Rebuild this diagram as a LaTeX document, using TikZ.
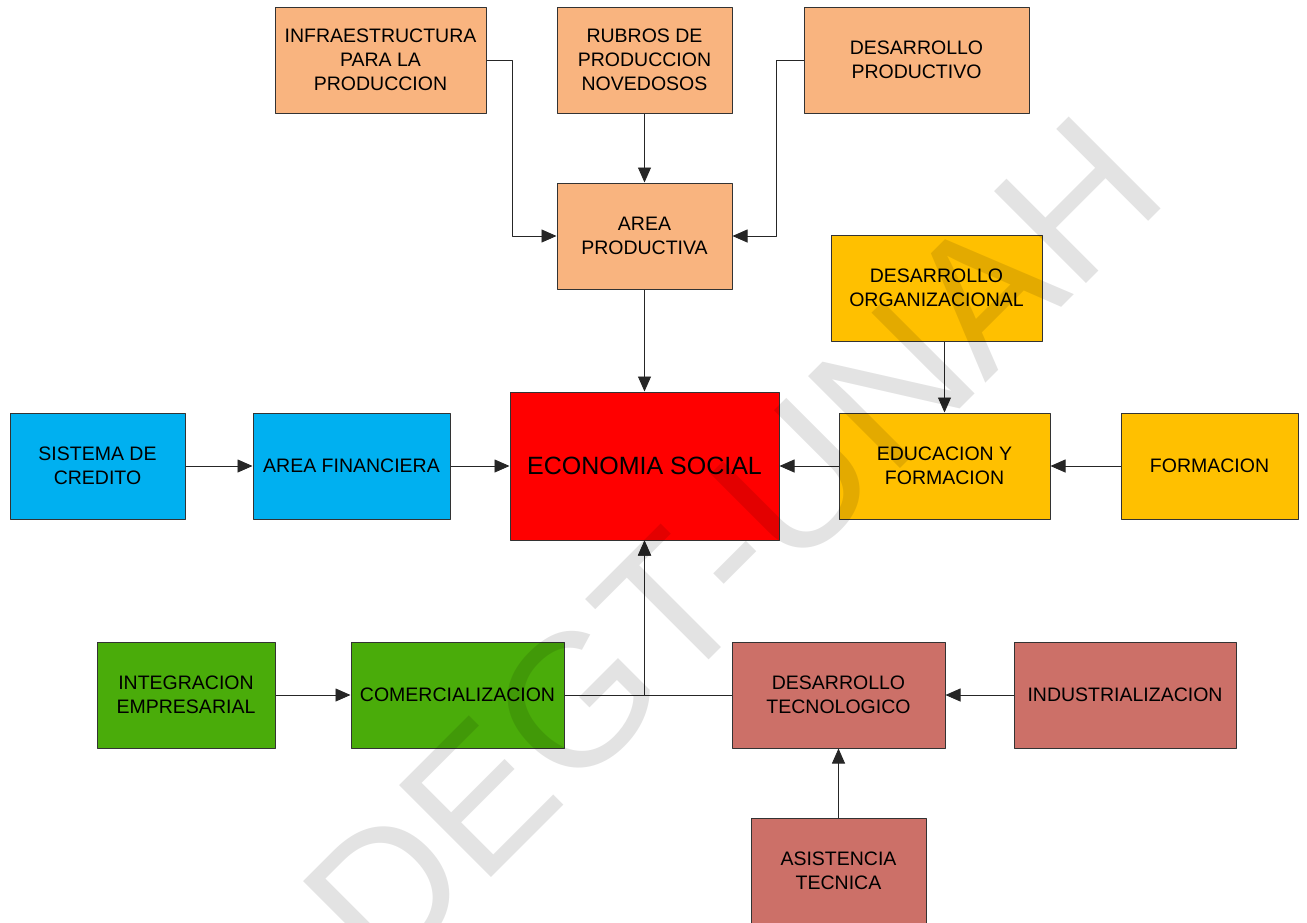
\documentclass[tikz,border=0pt]{standalone}
\usepackage{fontspec}
\setmainfont{Liberation Sans}
\usetikzlibrary{arrows.meta}
\definecolor{naranja}{HTML}{F9B47F}
\definecolor{amarillo}{HTML}{FFC000}
\definecolor{celeste}{HTML}{00B0F0}
\definecolor{rojo}{HTML}{FF0000}
\definecolor{verde}{HTML}{4AAC0A}
\definecolor{rosa}{HTML}{CC7068}
\begin{document}
\begin{tikzpicture}[>={Triangle[length=15pt,width=13pt]},x=1pt,y=-1pt,line join=round,
	caja/.style={draw=black!80,line width=1pt,inner sep=0pt,minimum height=106pt,align=center,
		font=\fontsize{19.5}{24}\selectfont},
	flecha/.style={->,line width=0.9pt,draw=black!85}]
		\useasboundingbox (0,0) rectangle (1307,922);
		% area productiva
		\node[caja,fill=naranja,minimum width=211pt] (infra) at (380.5,60) {INFRAESTRUCTURA\\PARA LA\\PRODUCCION};
		\node[caja,fill=naranja,minimum width=175pt] (rubros) at (644.5,60) {RUBROS DE\\PRODUCCION\\NOVEDOSOS};
		\node[caja,fill=naranja,minimum width=225pt] (desprod) at (916.5,60) {DESARROLLO\\PRODUCTIVO};
		\node[caja,fill=naranja,minimum width=175pt] (areaprod) at (644.5,236) {AREA\\PRODUCTIVA};
		% educacion
		\node[caja,fill=amarillo,minimum width=211pt] (desorg) at (936.5,288) {DESARROLLO\\ORGANIZACIONAL};
		\node[caja,fill=amarillo,minimum width=211pt] (educ) at (944.5,466) {EDUCACION Y\\FORMACION};
		\node[caja,fill=amarillo,minimum width=177pt] (formacion) at (1209.5,466) {FORMACION};
		% financiera
		\node[caja,fill=celeste,minimum width=175pt] (sistema) at (97.5,466) {SISTEMA DE\\CREDITO};
		\node[caja,fill=celeste,minimum width=197pt] (areafin) at (351.5,466) {AREA FINANCIERA};
		\node[caja,fill=rojo,minimum width=269pt,minimum height=148pt,font=\fontsize{25}{30}\selectfont] (economia) at (644.5,466) {ECONOMIA SOCIAL};
		% comercial y tecnologica
		\node[caja,fill=verde,minimum width=178pt] (integ) at (186,695) {INTEGRACION\\EMPRESARIAL};
		\node[caja,fill=verde,minimum width=213pt] (comerc) at (457.5,695) {COMERCIALIZACION};
		\node[caja,fill=rosa,minimum width=213pt] (destec) at (838.5,695) {DESARROLLO\\TECNOLOGICO};
		\node[caja,fill=rosa,minimum width=222pt] (indus) at (1125,695) {INDUSTRIALIZACION};
		\node[caja,fill=rosa,minimum width=175pt] (asist) at (838.5,871) {ASISTENCIA\\TECNICA};
		
		\draw[flecha] (infra.east) -- ++(26,0) |- (areaprod.west);
		\draw[flecha] (desprod.west) -- ++(-27,0) |- (areaprod.east);
		\draw[flecha] (rubros) -- (areaprod);
		\draw[flecha] (areaprod) -- (economia);
		\draw[flecha] (sistema) -- (areafin);
		\draw[flecha] (areafin) -- (economia);
		\draw[flecha] (educ) -- (economia);
		\draw[flecha] (formacion) -- (educ);
		\draw[flecha] (educ.north |- desorg.south) -- (educ.north);
		\draw[flecha] (integ) -- (comerc);
		\draw[flecha] (comerc.east) -| (economia.south);
		\draw[flecha] (destec.west) -| (economia.south);
		\draw[flecha] (indus) -- (destec);
		\draw[flecha] (asist) -- (destec);
		
		\node[rotate=45,inner sep=0pt,text=black,text opacity=0.11,font=\fontsize{189}{189}\selectfont] (marca) at (732,545) {DEGT-UNAH};
\end{tikzpicture}
\end{document}
